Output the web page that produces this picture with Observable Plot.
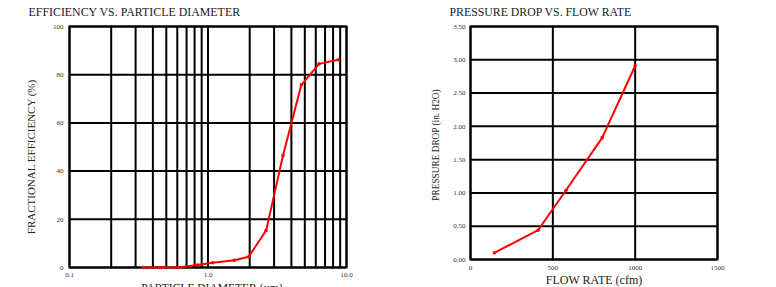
<!DOCTYPE html>
<html><head><meta charset="utf-8">
<script src="https://cdn.jsdelivr.net/npm/d3@7"></script>
<script src="https://cdn.jsdelivr.net/npm/@observablehq/plot@0.6"></script>
<style>
body{margin:0;background:#fff;}
#wrap{position:relative;width:776px;height:287px;overflow:hidden;}
#wrap svg{position:absolute;top:0;}
</style>
</head><body><div id="wrap"></div>
<script>
// Left chart data
const diameters = [0.34, 0.46, 0.61, 0.84, 1.08, 1.55, 1.97, 2.63, 3.48, 4.72, 6.34, 8.71];
const efficiency = [0, 0, 0, 1, 2, 3, 4.5, 15.4, 46.5, 75.8, 84.5, 86.2];
const diameterGrid = [0.1,0.2,0.3,0.4,0.5,0.6,0.7,0.8,0.9,1,2,3,4,5,6,7,8,9,10];
const diameterLabels = [0.1, 1, 10];
const efficiencyTicks = [0, 20, 40, 60, 80, 100];
// Right chart data
const flowRates = [145, 410, 580, 800, 1000];
const pressureDrops = [0.10, 0.44, 1.04, 1.83, 2.91];
const flowTicks = [0, 500, 1000, 1500];
const dropTicks = [0, 0.5, 1, 1.5, 2, 2.5, 3, 3.5];

const FONT = "Liberation Serif, Times New Roman, serif";
const grid = {stroke: "#000", strokeOpacity: 1, strokeWidth: 2};
const wrap = document.getElementById("wrap");

const effData = diameters.map((d, i) => ({d, e: efficiency[i]}));
const left = Plot.plot({
  width: 388, height: 287,
  marginLeft: 69, marginRight: 42, marginTop: 26, marginBottom: 20,
  style: {fontFamily: FONT, fontSize: "7px", background: "transparent", overflow: "visible"},
  x: {type: "log", domain: [0.1, 10]},
  y: {domain: [0, 100]},
  marks: [
    Plot.gridX(diameterGrid, grid),
    Plot.gridY(efficiencyTicks, grid),
    Plot.frame({stroke: "#000", strokeWidth: 2}),
    Plot.axisX(diameterLabels, {tickSize: 0, tickPadding: 5, tickFormat: d => d.toFixed(1), label: null, fill: "#333"}),
    Plot.axisY(efficiencyTicks, {tickSize: 0, tickPadding: 6, label: null, fill: "#333"}),
    Plot.line(effData, {x: "d", y: "e", stroke: "#ff0000", strokeWidth: 2}),
    Plot.dot(effData, {x: "d", y: "e", r: 1.8, fill: "#ff0000"}),
    Plot.text(["FRACTIONAL EFFICIENCY (%)"], {frameAnchor: "left", textAnchor: "middle", lineAnchor: "middle", dx: -38, dy: 10, rotate: -90, fontSize: 11, fill: "#222"}),
    Plot.text(["PARTICLE DIAMETER (µm)"], {frameAnchor: "bottom", textAnchor: "middle", lineAnchor: "top", dx: 4, dy: 16, fontSize: 11.5, fill: "#222"}),
    Plot.text(["EFFICIENCY VS. PARTICLE DIAMETER"], {frameAnchor: "top-left", textAnchor: "start", lineAnchor: "top", dx: -41, dy: -19, fontSize: 11.9, fill: "#222"})
  ]
});
left.style.left = "0px";
wrap.appendChild(left);

const dropData = flowRates.map((f, i) => ({f, p: pressureDrops[i]}));
const right = Plot.plot({
  width: 388, height: 287,
  marginLeft: 82, marginRight: 59, marginTop: 26, marginBottom: 28,
  style: {fontFamily: FONT, fontSize: "7px", background: "transparent", overflow: "visible"},
  x: {domain: [0, 1500]},
  y: {domain: [0, 3.5]},
  marks: [
    Plot.gridX(flowTicks, grid),
    Plot.gridY(dropTicks, grid),
    Plot.frame({stroke: "#000", strokeWidth: 2}),
    Plot.axisX(flowTicks, {tickSize: 0, tickPadding: 6, tickFormat: d => String(d), label: null, fill: "#333"}),
    Plot.axisY(dropTicks, {tickSize: 0, tickPadding: 5, tickFormat: d => d.toFixed(2), label: null, fill: "#333"}),
    Plot.line(dropData, {x: "f", y: "p", stroke: "#ff0000", strokeWidth: 2}),
    Plot.dot(dropData, {x: "f", y: "p", r: 1.8, fill: "#ff0000"}),
    Plot.text(["PRESSURE DROP (in. H2O)"], {frameAnchor: "left", textAnchor: "middle", lineAnchor: "middle", dx: -34, dy: 2, rotate: -90, fontSize: 9.3, fill: "#222"}),
    Plot.text(["FLOW RATE (cfm)"], {frameAnchor: "bottom", dy: 24, fontSize: 12, fill: "#222"}),
    Plot.text(["PRESSURE DROP VS. FLOW RATE"], {frameAnchor: "top-left", textAnchor: "start", lineAnchor: "top", dx: -21, dy: -19, fontSize: 11.8, fill: "#222"})
  ]
});
right.style.left = "388px";
wrap.appendChild(right);
</script>
</body></html>
